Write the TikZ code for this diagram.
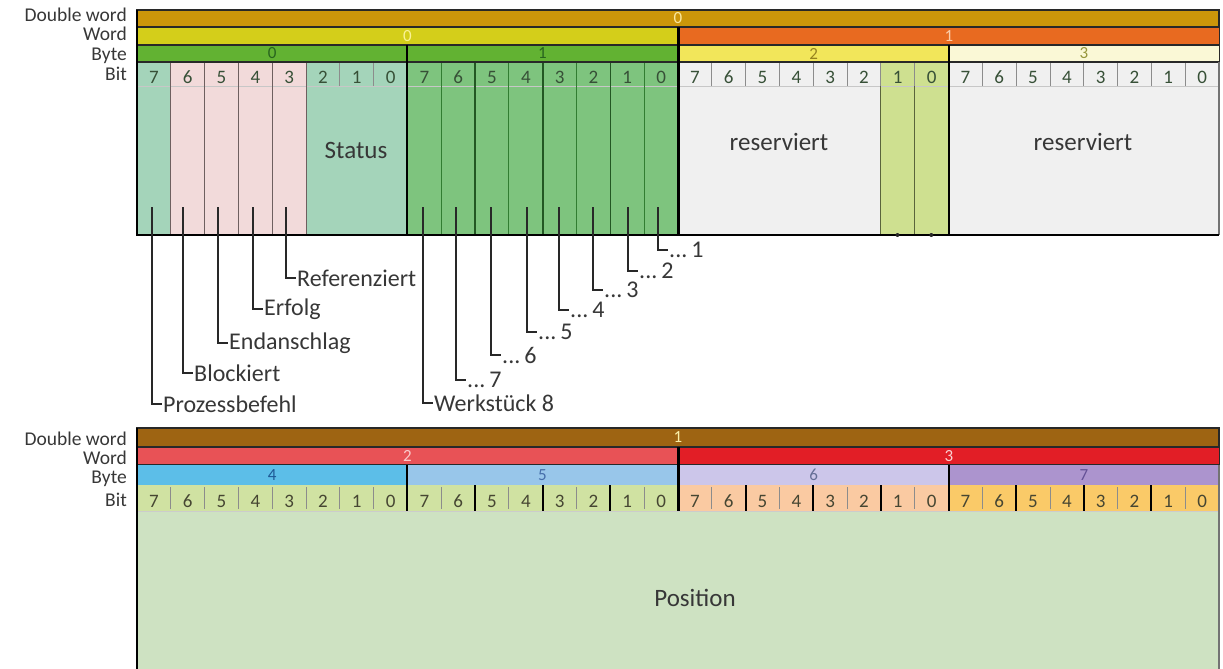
\documentclass[tikz,border=0pt]{standalone}
\usepackage{fontspec}
\setmainfont{Carlito}
\definecolor{cDWa}{RGB}{204,150,10}
\definecolor{cWa}{RGB}{212,206,26}
\definecolor{cWb}{RGB}{232,106,32}
\definecolor{cBa}{RGB}{98,178,50}
\definecolor{cBc}{RGB}{242,230,90}
\definecolor{cBd}{RGB}{250,248,214}
\definecolor{cTeal}{RGB}{164,212,186}
\definecolor{cPink}{RGB}{242,218,218}
\definecolor{cGreen}{RGB}{126,196,126}
\definecolor{cGray}{RGB}{240,240,240}
\definecolor{cYG}{RGB}{206,224,144}
\definecolor{cDWb}{RGB}{158,100,18}
\definecolor{cWc}{RGB}{232,82,86}
\definecolor{cWd}{RGB}{226,30,38}
\definecolor{cBe}{RGB}{92,190,232}
\definecolor{cBf}{RGB}{152,198,234}
\definecolor{cBg}{RGB}{204,198,234}
\definecolor{cBh}{RGB}{172,148,206}
\definecolor{cBitA}{RGB}{208,226,162}
\definecolor{cBitC}{RGB}{250,202,162}
\definecolor{cBitD}{RGB}{250,202,104}
\definecolor{cPos}{RGB}{206,226,194}
\definecolor{cTxt}{RGB}{55,55,55}
\definecolor{cLine}{RGB}{40,40,40}
\definecolor{cSepA}{RGB}{110,95,95}
\definecolor{cSepB}{RGB}{50,125,50}
\definecolor{cSepC}{RGB}{90,100,60}
\definecolor{cNumTop}{RGB}{55,80,55}
\definecolor{cNumBot}{RGB}{70,70,50}
\tikzset{
  bar/.style={draw=cLine, line width=1.3pt, inner sep=0pt, outer sep=0pt, anchor=north west, font=\fontsize{17}{17}\selectfont},
  rowlabel/.style={anchor=base east, inner sep=0pt, text=cTxt, font=\fontsize{19.5}{19.5}\selectfont},
  bitnum/.style={anchor=base, inner sep=0pt, font=\fontsize{19}{19}\selectfont},
  ann/.style={anchor=west, inner sep=1pt, text=cTxt, font=\fontsize{24}{24}\selectfont},
  annline/.style={draw=cLine, line width=1.4pt},
  bigtext/.style={text=cTxt, font=\fontsize{25}{25}\selectfont},
  thinsep/.style={draw=black!45, line width=0.9pt},
  bytesep/.style={draw=black, line width=2.2pt},
}
\begin{document}
\begin{tikzpicture}[x=1pt,y=-1pt]
\useasboundingbox (0,0) rectangle (1223,669);
\def\W{33.8125}

% ================= TOP =================
\foreach \k/\c in {0/cTeal,1/cPink,2/cPink,3/cPink,4/cPink,5/cTeal,6/cTeal,7/cTeal,
  8/cGreen,9/cGreen,10/cGreen,11/cGreen,12/cGreen,13/cGreen,14/cGreen,15/cGreen,
  16/cGray,17/cGray,18/cGray,19/cGray,20/cGray,21/cGray,22/cYG,23/cYG,
  24/cGray,25/cGray,26/cGray,27/cGray,28/cGray,29/cGray,30/cGray,31/cGray}
  \fill[\c] ({137+\k*\W},62) rectangle ({137+(\k+1)*\W},235);

\draw[black!22, line width=0.8pt] (137,86) -- (1219,86);
\foreach \k in {1,...,31} \draw[thinsep] ({137+\k*\W},62) -- ({137+\k*\W},86);
\foreach \k in {1,...,5} \draw[cSepA, line width=1pt] ({137+\k*\W},62) -- ({137+\k*\W},235);
\foreach \k in {9,11,13,15} \draw[cSepB, line width=1.1pt] ({137+\k*\W},62) -- ({137+\k*\W},235);
\foreach \k in {10,12,14} \draw[cSepB!70!black, line width=1.6pt] ({137+\k*\W},62) -- ({137+\k*\W},235);
\foreach \k in {22,23} \draw[cSepC, line width=1.2pt] ({137+\k*\W},86) -- ({137+\k*\W},235);

\node[bar, fill=cDWa, minimum width=1082, minimum height=17, text={rgb,255:red,250;green,232;blue,160}] (dwA) at (137,10) {0};
\node[bar, fill=cWa, minimum width=541, minimum height=18, text={rgb,255:red,250;green,242;blue,150}] (wA) at (137,27) {0};
\node[bar, fill=cWb, minimum width=541, minimum height=18, text={rgb,255:red,250;green,205;blue,170}] (wB) at (678.5,27) {1};
\node[bar, fill=cBa, minimum width=270.5, minimum height=17, text={rgb,255:red,40;green,100;blue,30}] (bA) at (137,45) {0};
\node[bar, fill=cBa, minimum width=270.5, minimum height=17, text={rgb,255:red,40;green,100;blue,30}] (bB) at (407.25,45) {1};
\node[bar, fill=cBc, minimum width=270.5, minimum height=17, text={rgb,255:red,150;green,130;blue,30}] (bC) at (678.5,45) {2};
\node[bar, fill=cBd, minimum width=270.5, minimum height=17, text={rgb,255:red,150;green,150;blue,60}] (bD) at (948.75,45) {3};

\foreach \k in {0,...,31}{
  \pgfmathtruncatemacro\d{7-mod(\k,8)}
  \node[bitnum, text=cNumTop] (tb\k) at ({137+(\k+0.5)*\W},83) {\d};
}

\draw[bytesep] (407.25,45) -- (407.25,235);
\draw[bytesep] (678.5,27) -- (678.5,235);
\draw[bytesep] (948.75,45) -- (948.75,235);
\draw[black!55, line width=1.6pt] (1219,62) -- (1219,235);
\draw[black, line width=2.2pt] (137,10) -- (137,235) -- (1219,235);

\node[rowlabel] (lDWa) at (127,22) {Double word};
\node[rowlabel] (lWa) at (127,41) {Word};
\node[rowlabel] (lBa) at (127,60) {Byte};
\node[rowlabel] (lBita) at (127,81) {Bit};

\node[bigtext] (status) at (356,150) {Status};
\node[bigtext] (resA) at (779,142) {reserviert};
\node[bigtext] (resB) at (1083,142) {reserviert};

\fill[cLine] (897.5,235) circle (2);
\fill[cLine] (931.3,235) circle (2);

% annotations byte 0
\coordinate (a7) at (152,207);
\coordinate (a6) at (183,207);
\coordinate (a5) at (218,207);
\coordinate (a4) at (253,207);
\coordinate (a3) at (286,207);
\node[ann] (nProz) at (162,404) {Prozessbefehl};
\node[ann] (nBlock) at (193,373) {Blockiert};
\node[ann] (nEnd) at (228,343) {Endanschlag};
\node[ann] (nErf) at (263,309) {Erfolg};
\node[ann] (nRef) at (296,278) {Referenziert};
\draw[annline] (a7) |- (nProz.west);
\draw[annline] (a6) |- (nBlock.west);
\draw[annline] (a5) |- (nEnd.west);
\draw[annline] (a4) |- (nErf.west);
\draw[annline] (a3) |- (nRef.west);

% annotations byte 1
\coordinate (c7) at (423,207);
\coordinate (c6) at (456,207);
\coordinate (c5) at (491,207);
\coordinate (c4) at (527,207);
\coordinate (c3) at (559,207);
\coordinate (c2) at (593,207);
\coordinate (c1) at (628,207);
\coordinate (c0) at (658,207);
\node[ann] (nW8) at (433,403) {Werkstück 8};
\node[ann] (nW7) at (466,380) {...\,7};
\node[ann] (nW6) at (501,355) {...\,6};
\node[ann] (nW5) at (537,332) {...\,5};
\node[ann] (nW4) at (569,310) {...\,4};
\node[ann] (nW3) at (603,290) {...\,3};
\node[ann] (nW2) at (638,271) {...\,2};
\node[ann] (nW1) at (668,250) {...\,1};
\draw[annline] (c7) |- (nW8.west);
\draw[annline] (c6) |- (nW7.west);
\draw[annline] (c5) |- (nW6.west);
\draw[annline] (c4) |- (nW5.west);
\draw[annline] (c3) |- (nW4.west);
\draw[annline] (c2) |- (nW3.west);
\draw[annline] (c1) |- (nW2.west);
\draw[annline] (c0) |- (nW1.west);

% ================= BOTTOM =================
\fill[cBitA] (137,485) rectangle (678.5,511);
\fill[cBitC] (678.5,485) rectangle (948.75,511);
\fill[cBitD] (948.75,485) rectangle (1219,511);
\fill[cPos] (137,511) rectangle (1219,669);
\draw[black!20, line width=0.6pt] (137,511) -- (1219,511);

\foreach \k in {1,...,31} \draw[thinsep] ({137+\k*\W},487) -- ({137+\k*\W},509);
\foreach \k in {10,12,14,18,20,22,26,28,30} \draw[black, line width=2.2pt] ({137+\k*\W},485) -- ({137+\k*\W},511);

\node[bar, fill=cDWb, minimum width=1082, minimum height=19, text={rgb,255:red,250;green,240;blue,170}] (dwB) at (137,428) {1};
\node[bar, fill=cWc, minimum width=541, minimum height=18, text={rgb,255:red,250;green,205;blue,205}] (wC) at (137,447) {2};
\node[bar, fill=cWd, minimum width=541, minimum height=18, text={rgb,255:red,250;green,210;blue,210}] (wD) at (678.5,447) {3};
\node[bar, fill=cBe, minimum width=270.5, minimum height=20, draw=none, text={rgb,255:red,30;green,90;blue,150}] (bE) at (137,465) {4};
\node[bar, fill=cBf, minimum width=270.5, minimum height=20, draw=none, text={rgb,255:red,70;green,110;blue,170}] (bF) at (407.25,465) {5};
\node[bar, fill=cBg, minimum width=270.5, minimum height=20, draw=none, text={rgb,255:red,100;green,110;blue,150}] (bG) at (678.5,465) {6};
\node[bar, fill=cBh, minimum width=270.5, minimum height=20, draw=none, text={rgb,255:red,100;green,80;blue,150}] (bH) at (948.75,465) {7};

\foreach \k in {0,...,31}{
  \pgfmathtruncatemacro\d{7-mod(\k,8)}
  \node[bitnum, text=cNumBot] (bb\k) at ({137+(\k+0.5)*\W},507) {\d};
}

\draw[bytesep] (407.25,465) -- (407.25,511);
\draw[bytesep] (678.5,447) -- (678.5,511);
\draw[bytesep] (948.75,465) -- (948.75,511);
\draw[black!55, line width=1.6pt] (1219,465) -- (1219,669);
\draw[black, line width=2.2pt] (137,428) -- (137,669);

\node[rowlabel] (lDWb) at (127,445) {Double word};
\node[rowlabel] (lWb) at (127,464) {Word};
\node[rowlabel] (lBb) at (127,483) {Byte};
\node[rowlabel] (lBitb) at (127,506) {Bit};

\node[bigtext] (pos) at (695,598) {Position};
\end{tikzpicture}
\end{document}
